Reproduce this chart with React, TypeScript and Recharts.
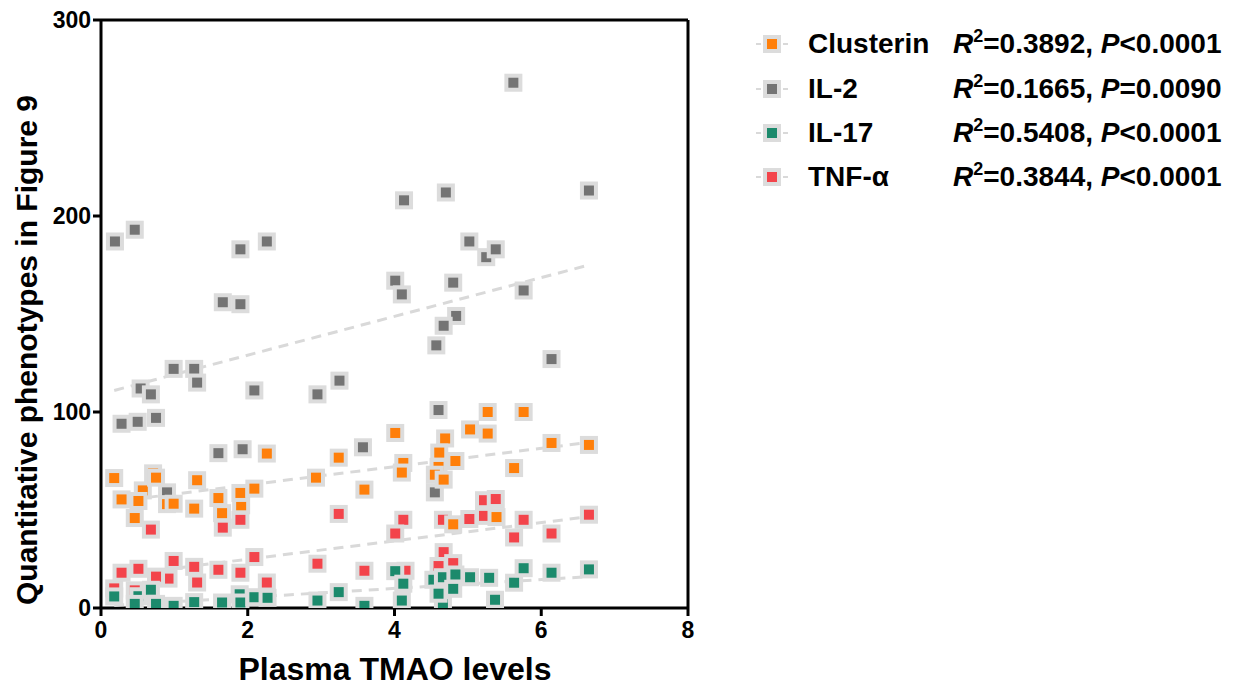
import React from 'react';
import { ScatterChart, Scatter, XAxis, YAxis, ReferenceLine } from 'recharts';

const FONT = '"Liberation Sans", Arial, Helvetica, sans-serif';

// Series names and statistics (legend order)
const seriesNames = ['Clusterin', 'IL-2', 'IL-17', 'TNF-α'];
const seriesR2 = ['0.3892', '0.1665', '0.5408', '0.3844'];
const seriesPSign = ['<', '=', '<', '<'];
const seriesP = ['0.0001', '0.0090', '0.0001', '0.0001'];
const seriesColors = ['#ff7f0a', '#747474', '#1c8a6c', '#f3444b'];

const xTicks = [0, 2, 4, 6, 8];
const yTicks = [0, 100, 200, 300];

const il2Points = [
  { x: 0.9, y: 59 }, { x: 4.55, y: 59 }, { x: 5.25, y: 179 },
  { x: 0.19, y: 187 }, { x: 0.46, y: 193 }, { x: 1.9, y: 183 }, { x: 2.26, y: 187 },
  { x: 1.66, y: 156 }, { x: 1.9, y: 155 }, { x: 0.99, y: 122 }, { x: 1.27, y: 122 },
  { x: 1.31, y: 115 }, { x: 0.54, y: 112 }, { x: 0.68, y: 109 }, { x: 2.09, y: 111 },
  { x: 0.28, y: 94 }, { x: 0.5, y: 95 }, { x: 0.75, y: 97 }, { x: 1.6, y: 79 },
  { x: 1.93, y: 81 }, { x: 4.13, y: 208 }, { x: 4.7, y: 212 }, { x: 5.02, y: 187 },
  { x: 4.01, y: 167 }, { x: 4.1, y: 160 }, { x: 4.8, y: 166 }, { x: 4.84, y: 149 },
  { x: 4.67, y: 144 }, { x: 4.57, y: 134 }, { x: 3.25, y: 116 }, { x: 2.95, y: 109 },
  { x: 4.6, y: 101 }, { x: 5.62, y: 268 }, { x: 6.65, y: 213 }, { x: 5.38, y: 183 },
  { x: 5.76, y: 162 }, { x: 6.14, y: 127 }, { x: 3.57, y: 82 },
];

const tnfPoints = [
  { x: 0.18, y: 10 }, { x: 0.46, y: 9 }, { x: 0.92, y: 15 }, { x: 1.31, y: 13 },
  { x: 1.66, y: 41 }, { x: 1.9, y: 45 }, { x: 5.22, y: 55 }, { x: 5.22, y: 47 },
  { x: 4.66, y: 45 }, { x: 4.15, y: 19 },
  { x: 0.68, y: 40 }, { x: 0.28, y: 18 }, { x: 0.51, y: 20 }, { x: 0.75, y: 16 },
  { x: 0.99, y: 24 }, { x: 1.27, y: 21 }, { x: 1.6, y: 19.5 }, { x: 1.9, y: 18 },
  { x: 2.09, y: 26 }, { x: 2.26, y: 13 }, { x: 3.24, y: 48 }, { x: 2.95, y: 22.6 },
  { x: 3.59, y: 19 }, { x: 4.12, y: 45 }, { x: 4.01, y: 38 }, { x: 5.02, y: 45.4 },
  { x: 4.67, y: 28.5 }, { x: 4.6, y: 21.4 }, { x: 4.8, y: 22.9 }, { x: 5.38, y: 55.6 },
  { x: 5.76, y: 45 }, { x: 5.63, y: 36 }, { x: 6.14, y: 38 }, { x: 6.65, y: 47.6 },
];

const il17Points = [
  { x: 0.51, y: 6 }, { x: 1.89, y: 7 }, { x: 4.53, y: 14.4 }, { x: 4.66, y: 15.7 },
  { x: 4.66, y: 2 },
  { x: 0.18, y: 5.9 }, { x: 0.46, y: 2.1 }, { x: 0.68, y: 9.3 }, { x: 0.75, y: 2.1 },
  { x: 0.99, y: 1.1 }, { x: 1.27, y: 3 }, { x: 1.65, y: 2.8 }, { x: 1.9, y: 2.8 },
  { x: 2.09, y: 5.5 }, { x: 2.27, y: 5.2 }, { x: 2.95, y: 3.8 }, { x: 3.24, y: 8.1 },
  { x: 3.59, y: 1.1 }, { x: 4.01, y: 18.8 }, { x: 4.12, y: 12.4 }, { x: 4.1, y: 3.8 },
  { x: 4.6, y: 7.3 }, { x: 4.8, y: 9.8 }, { x: 4.83, y: 17.1 }, { x: 5.03, y: 15.7 },
  { x: 5.29, y: 15.4 }, { x: 5.63, y: 12.9 }, { x: 5.76, y: 20.3 }, { x: 5.37, y: 4.2 },
  { x: 6.14, y: 18 }, { x: 6.65, y: 19.7 },
];

const clusterinPoints = [
  { x: 0.71, y: 68.7 }, { x: 0.57, y: 60 }, { x: 0.9, y: 53 }, { x: 1.91, y: 52.4 },
  { x: 4.6, y: 72 }, { x: 4.55, y: 68 }, { x: 4.12, y: 74 },
  { x: 0.18, y: 66.3 }, { x: 0.75, y: 66.5 }, { x: 1.31, y: 65.2 }, { x: 0.28, y: 55.4 },
  { x: 0.51, y: 54.6 }, { x: 0.46, y: 45.9 }, { x: 0.99, y: 53.2 }, { x: 1.27, y: 50.7 },
  { x: 1.6, y: 56.1 }, { x: 1.65, y: 48.4 }, { x: 1.9, y: 58.7 }, { x: 2.09, y: 60.9 },
  { x: 2.26, y: 78.8 }, { x: 4.01, y: 89.3 }, { x: 4.69, y: 86.5 }, { x: 5.03, y: 91.1 },
  { x: 5.27, y: 89 }, { x: 4.61, y: 79.3 }, { x: 4.83, y: 75 }, { x: 3.24, y: 76.7 },
  { x: 4.1, y: 69.1 }, { x: 2.93, y: 66.5 }, { x: 3.59, y: 60.4 }, { x: 4.67, y: 65.5 },
  { x: 4.8, y: 42.7 }, { x: 6.14, y: 84.2 }, { x: 6.65, y: 83.2 }, { x: 5.63, y: 71.4 },
  { x: 5.39, y: 46.4 }, { x: 5.27, y: 100 }, { x: 5.76, y: 100 },
];

// Fitted regression lines (endpoints)
const il2Trend = [{ x: 0.18, y: 111 }, { x: 6.65, y: 175 }];
const clusterinTrend = [{ x: 0.18, y: 54.3 }, { x: 6.65, y: 84.5 }];
const tnfTrend = [{ x: 0.18, y: 16.4 }, { x: 6.65, y: 46.6 }];
const il17Trend = [{ x: 0.18, y: 1.3 }, { x: 6.65, y: 16 }];

const BORDER = '#dcdcdc';
const TREND = '#d9d9d9';

const makeMarker = (color: string) => (props: any) => {
  const { cx, cy } = props;
  if (cx == null || cy == null) return <g />;
  return (
    <g>
      <rect x={cx - 9} y={cy - 9} width={18} height={18} fill={BORDER} />
      <rect x={cx - 5} y={cy - 5} width={10} height={10} fill={color} />
    </g>
  );
};

const noShape = () => <g />;
const trendLine = { stroke: TREND, strokeWidth: 3, strokeDasharray: '10 7' };

const XLabel = () => (
  <text x={395} y={680} textAnchor="middle" fontFamily={FONT} fontSize={32} fontWeight={700} fill="#000">
    Plasma TMAO levels
  </text>
);

const YLabel = () => (
  <text
    x={0}
    y={0}
    transform="translate(37,350) rotate(-90)"
    textAnchor="middle"
    fontFamily={FONT}
    fontSize={30}
    fontWeight={700}
    fill="#000"
  >
    Quantitative phenotypes in Figure 9
  </text>
);

const legendTops = [22, 67, 111, 155];

const Legend = () => (
  <div style={{ position: 'absolute', left: 0, top: 0, width: 1242, height: 690, pointerEvents: 'none', fontFamily: FONT, fontSize: 28, fontWeight: 700, color: '#000' }}>
    {seriesNames.map((name, i) => (
      <div key={name} style={{ position: 'absolute', left: 0, top: legendTops[i], height: 44, width: 1242 }}>
        <svg style={{ position: 'absolute', left: 752, top: 0 }} width={40} height={44}>
          <line x1={4} y1={22} x2={36} y2={22} stroke={TREND} strokeWidth={2} strokeDasharray="5 4" />
          <rect x={11} y={13} width={18} height={18} fill={BORDER} />
          <rect x={15} y={17} width={10} height={10} fill={seriesColors[i]} />
        </svg>
        <span style={{ position: 'absolute', left: 808, top: 0, lineHeight: '44px', whiteSpace: 'nowrap' }}>{name}</span>
        <span style={{ position: 'absolute', left: 953, top: 0, lineHeight: '44px', whiteSpace: 'nowrap' }}>
          <i>R</i>
          <sup style={{ fontSize: 18, lineHeight: 0, verticalAlign: 'baseline', position: 'relative', top: -11 }}>2</sup>
          {'=' + seriesR2[i] + ', '}
          <i>P</i>
          {seriesPSign[i] + seriesP[i]}
        </span>
      </div>
    ))}
  </div>
);

export default function App() {
  return (
    <div style={{ position: 'absolute', left: 0, top: 0, width: 1242, height: 690, background: '#fff' }}>
      <ScatterChart width={1242} height={690} margin={{ top: 20, right: 554, bottom: 42, left: 41 }}>
        <XAxis
          type="number"
          dataKey="x"
          domain={[0, 8]}
          ticks={xTicks}
          allowDataOverflow
          height={40}
          tickSize={8}
          tickMargin={6}
          axisLine={{ stroke: '#000', strokeWidth: 3 }}
          tickLine={{ stroke: '#000', strokeWidth: 3 }}
          tick={{ fill: '#000', fontSize: 23, fontWeight: 700, fontFamily: FONT }}
          label={<XLabel />}
        />
        <YAxis
          type="number"
          dataKey="y"
          domain={[0, 300]}
          ticks={yTicks}
          allowDataOverflow
          width={60}
          tickSize={8}
          tickMargin={2}
          axisLine={{ stroke: '#000', strokeWidth: 3 }}
          tickLine={{ stroke: '#000', strokeWidth: 3 }}
          tick={{ fill: '#000', fontSize: 23, fontWeight: 700, fontFamily: FONT }}
          label={<YLabel />}
        />
        <ReferenceLine y={300} stroke="#000" strokeWidth={3} />
        <ReferenceLine x={8} stroke="#000" strokeWidth={3} />
        <Scatter data={il2Trend} line={trendLine} shape={noShape} isAnimationActive={false} />
        <Scatter data={clusterinTrend} line={trendLine} shape={noShape} isAnimationActive={false} />
        <Scatter data={tnfTrend} line={trendLine} shape={noShape} isAnimationActive={false} />
        <Scatter data={il17Trend} line={trendLine} shape={noShape} isAnimationActive={false} />
        <Scatter name="IL-2" data={il2Points} shape={makeMarker(seriesColors[1])} isAnimationActive={false} />
        <Scatter name="TNF-α" data={tnfPoints} shape={makeMarker(seriesColors[3])} isAnimationActive={false} />
        <Scatter name="IL-17" data={il17Points} shape={makeMarker(seriesColors[2])} isAnimationActive={false} />
        <Scatter name="Clusterin" data={clusterinPoints} shape={makeMarker(seriesColors[0])} isAnimationActive={false} />
      </ScatterChart>
      <Legend />
    </div>
  );
}
